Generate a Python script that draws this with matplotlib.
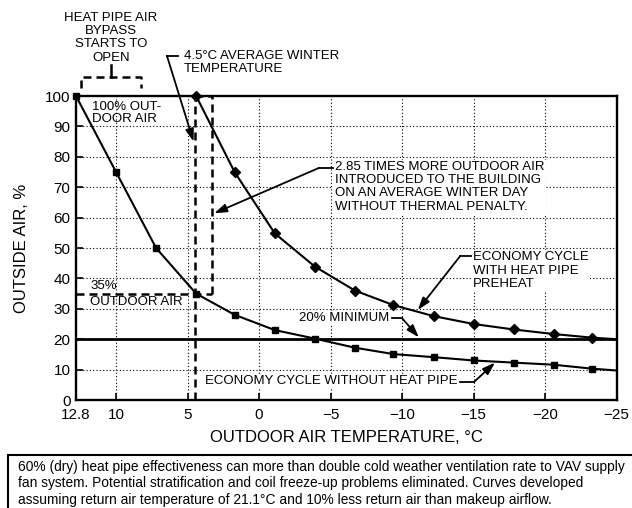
import matplotlib
matplotlib.use("Agg")
import matplotlib.pyplot as plt
from matplotlib.patches import Rectangle

plt.rcParams['font.family'] = ['Liberation Sans', 'DejaVu Sans']

# ---- data ----
temp_no_hp = [12.8, 10.0, 7.2, 4.4, 1.7, -1.1, -3.9, -6.7, -9.4, -12.2, -15.0, -17.8, -20.6, -23.3, -25.0]
oa_no_hp = [100, 75, 50, 35, 28, 23, 20.2, 17.2, 15.1, 14.1, 13.0, 12.3, 11.6, 10.3, 9.7]

temp_hp = [4.4, 1.7, -1.1, -3.9, -6.7, -9.4, -12.2, -15.0, -17.8, -20.6, -23.3, -25.0]
oa_hp = [100, 74.9, 54.8, 43.9, 36.0, 31.2, 27.6, 25.0, 23.2, 21.7, 20.5, 20.0]

min_oa = 20
avg_winter_temp = 4.5
oa_at_avg_no_hp = 35

xticks = [12.8, 10, 5, 0, -5, -10, -15, -20, -25]
xtick_labels = ["12.8", "10", "5", "0", "\u22125", "\u221210", "\u221215", "\u221220", "\u221225"]
yticks = [0, 10, 20, 30, 40, 50, 60, 70, 80, 90, 100]

note = ("60% (dry) heat pipe effectiveness can more than double cold weather ventilation rate to VAV supply\n"
        "fan system. Potential stratification and coil freeze-up problems eliminated. Curves developed\n"
        "assuming return air temperature of 21.1\u00b0C and 10% less return air than makeup airflow.")

# ---- figure ----
W, H = 632, 508
fig = plt.figure(figsize=(W / 100, H / 100), dpi=100)
ax = fig.add_axes([76 / W, 1 - 400 / H, (616.6 - 76) / W, (400 - 96) / H])
ax.set_xlim(12.8, -25)
ax.set_ylim(0, 100)

dot = (0, (1, 2))
for xv in [10, 5, 0, -5, -10, -15, -20]:
    ax.axvline(xv, color='black', lw=0.8, ls=dot, zorder=1)
for yv in yticks[1:-1]:
    ax.axhline(yv, color='black', lw=0.8, ls=dot, zorder=1)

ax.set_xticks(xticks)
ax.set_xticklabels(xtick_labels)
ax.set_yticks(yticks)
ax.tick_params(direction='in', length=5, width=1.2, labelsize=11)
ax.tick_params(axis='x', pad=6)
ax.tick_params(axis='y', pad=4)
for s in ax.spines.values():
    s.set_linewidth(1.7)

# minimum line
ax.axhline(min_oa, color='black', lw=2.0, zorder=3)

# curves
ax.plot(temp_no_hp, oa_no_hp, color='black', lw=1.5, marker='s', ms=4.8,
        markevery=list(range(len(temp_no_hp) - 1)), zorder=4, clip_on=False)
ax.plot(temp_hp, oa_hp, color='black', lw=1.5, marker='D', ms=4.8,
        markevery=list(range(len(temp_hp) - 1)), zorder=4, clip_on=False)

# dashed construction lines
dash = (0, (3.2, 2))
x_right = 3.3
ax.plot([avg_winter_temp, avg_winter_temp], [0, 100], color='black', lw=1.8, ls=dash, zorder=3)
ax.plot([12.8, x_right], [oa_at_avg_no_hp, oa_at_avg_no_hp], color='black', lw=1.8, ls=dash, zorder=3)
ax.plot([x_right, x_right], [oa_at_avg_no_hp, 100], color='black', lw=1.8, ls=dash, zorder=3)
ax.plot([avg_winter_temp, x_right], [100, 100], color='black', lw=1.8, ls=dash, zorder=3, clip_on=False)

fs = 9.5
ls_multi = 1.13
wb = dict(facecolor='white', edgecolor='none', pad=1.0)
arrow = dict(arrowstyle='-|>,head_length=0.75,head_width=0.25', color='black', lw=1.3,
             shrinkA=0, shrinkB=0)

# bypass bracket
ax.text(10.35, 127.6, "HEAT PIPE AIR\nBYPASS\nSTARTS TO\nOPEN", ha='center', va='top',
        fontsize=fs, linespacing=ls_multi, clip_on=False)
ax.plot([12.44, 12.44, 8.26, 8.26], [102.6, 106.3, 106.3, 102.6], color='black', lw=1.8, ls=dash,
        clip_on=False)
ax.plot([10.35, 10.35], [106.3, 110.2], color='black', lw=1.8, clip_on=False)

# 4.5 C average winter
ax.text(5.24, 115.0, "4.5\u00b0C AVERAGE WINTER\nTEMPERATURE", ha='left', va='top',
        fontsize=fs, linespacing=1.05, clip_on=False)
ax.plot([6.44, 5.66], [113.2, 113.2], color='black', lw=1.3, clip_on=False)
ax.annotate("", xy=(4.58, 85), xytext=(6.44, 113.2), arrowprops=arrow, annotation_clip=False)

# 100% outdoor air
ax.text(11.7, 98.5, "100% OUT-\nDOOR AIR", ha='left', va='top', fontsize=fs, linespacing=1.0)

# 35% outdoor air
ax.text(11.8, 37.6, "35%", ha='left', va='center', fontsize=fs)
ax.text(11.8, 32.3, "OUTDOOR AIR", ha='left', va='center', fontsize=fs)

# 2.85 times
ax.text(-5.29, 78.6, "2.85 TIMES MORE OUTDOOR AIR\nINTRODUCED TO THE BUILDING\n"
        "ON AN AVERAGE WINTER DAY\nWITHOUT THERMAL PENALTY.", ha='left', va='top',
        fontsize=fs, linespacing=ls_multi, bbox=wb, zorder=5)
ax.plot([-4.17, -5.2], [76.3, 76.3], color='black', lw=1.3, zorder=5)
ax.annotate("", xy=(3.14, 61.4), xytext=(-4.17, 76.3), arrowprops=arrow, zorder=5)

# economy cycle with heat pipe
ax.text(-14.96, 48.9, "ECONOMY CYCLE\nWITH HEAT PIPE\nPREHEAT", ha='left', va='top',
        fontsize=fs, linespacing=ls_multi, bbox=wb, zorder=5)
ax.plot([-14.07, -14.8], [47.4, 47.4], color='black', lw=1.3, zorder=5)
ax.annotate("", xy=(-11.1, 29.6), xytext=(-14.07, 47.4), arrowprops=arrow, zorder=5)

# 20% minimum
ax.text(-9.1, 26.9, "20% MINIMUM", ha='right', va='center', fontsize=fs, bbox=wb, zorder=5)
ax.plot([-9.31, -10.0], [26.9, 26.9], color='black', lw=1.3, zorder=5)
ax.annotate("", xy=(-11.17, 20.6), xytext=(-10.0, 26.9), arrowprops=arrow, zorder=5)

# economy cycle without heat pipe
ax.text(3.79, 6.2, "ECONOMY CYCLE WITHOUT HEAT PIPE", ha='left', va='center', fontsize=fs,
        bbox=wb, zorder=5)
ax.plot([-14.07, -15.05], [6.0, 6.0], color='black', lw=1.3, zorder=5)
ax.annotate("", xy=(-16.5, 12.3), xytext=(-15.05, 6.0), arrowprops=arrow, zorder=5)

ax.set_xlabel("OUTDOOR AIR TEMPERATURE, \u00b0C", fontsize=12)
ax.set_ylabel("OUTSIDE AIR, %", fontsize=12)
ax.xaxis.set_label_coords(0.5, (400 - 437) / 304)
ax.yaxis.set_label_coords((22 - 76) / (616.6 - 76), 0.5)
ax.xaxis.label.set_va('center')
ax.yaxis.label.set_va('center')

# note box
fig.add_artist(Rectangle((8 / W, -0.2), 1.0, (508 - 455) / H + 0.2, transform=fig.transFigure,
                         fill=False, lw=1.5, ec='black', clip_on=False))
fig.text(18 / W, (508 - 460) / H, note, ha='left', va='top', fontsize=9.9,
         linespacing=1.22)

fig.savefig("out.png", dpi=100)
